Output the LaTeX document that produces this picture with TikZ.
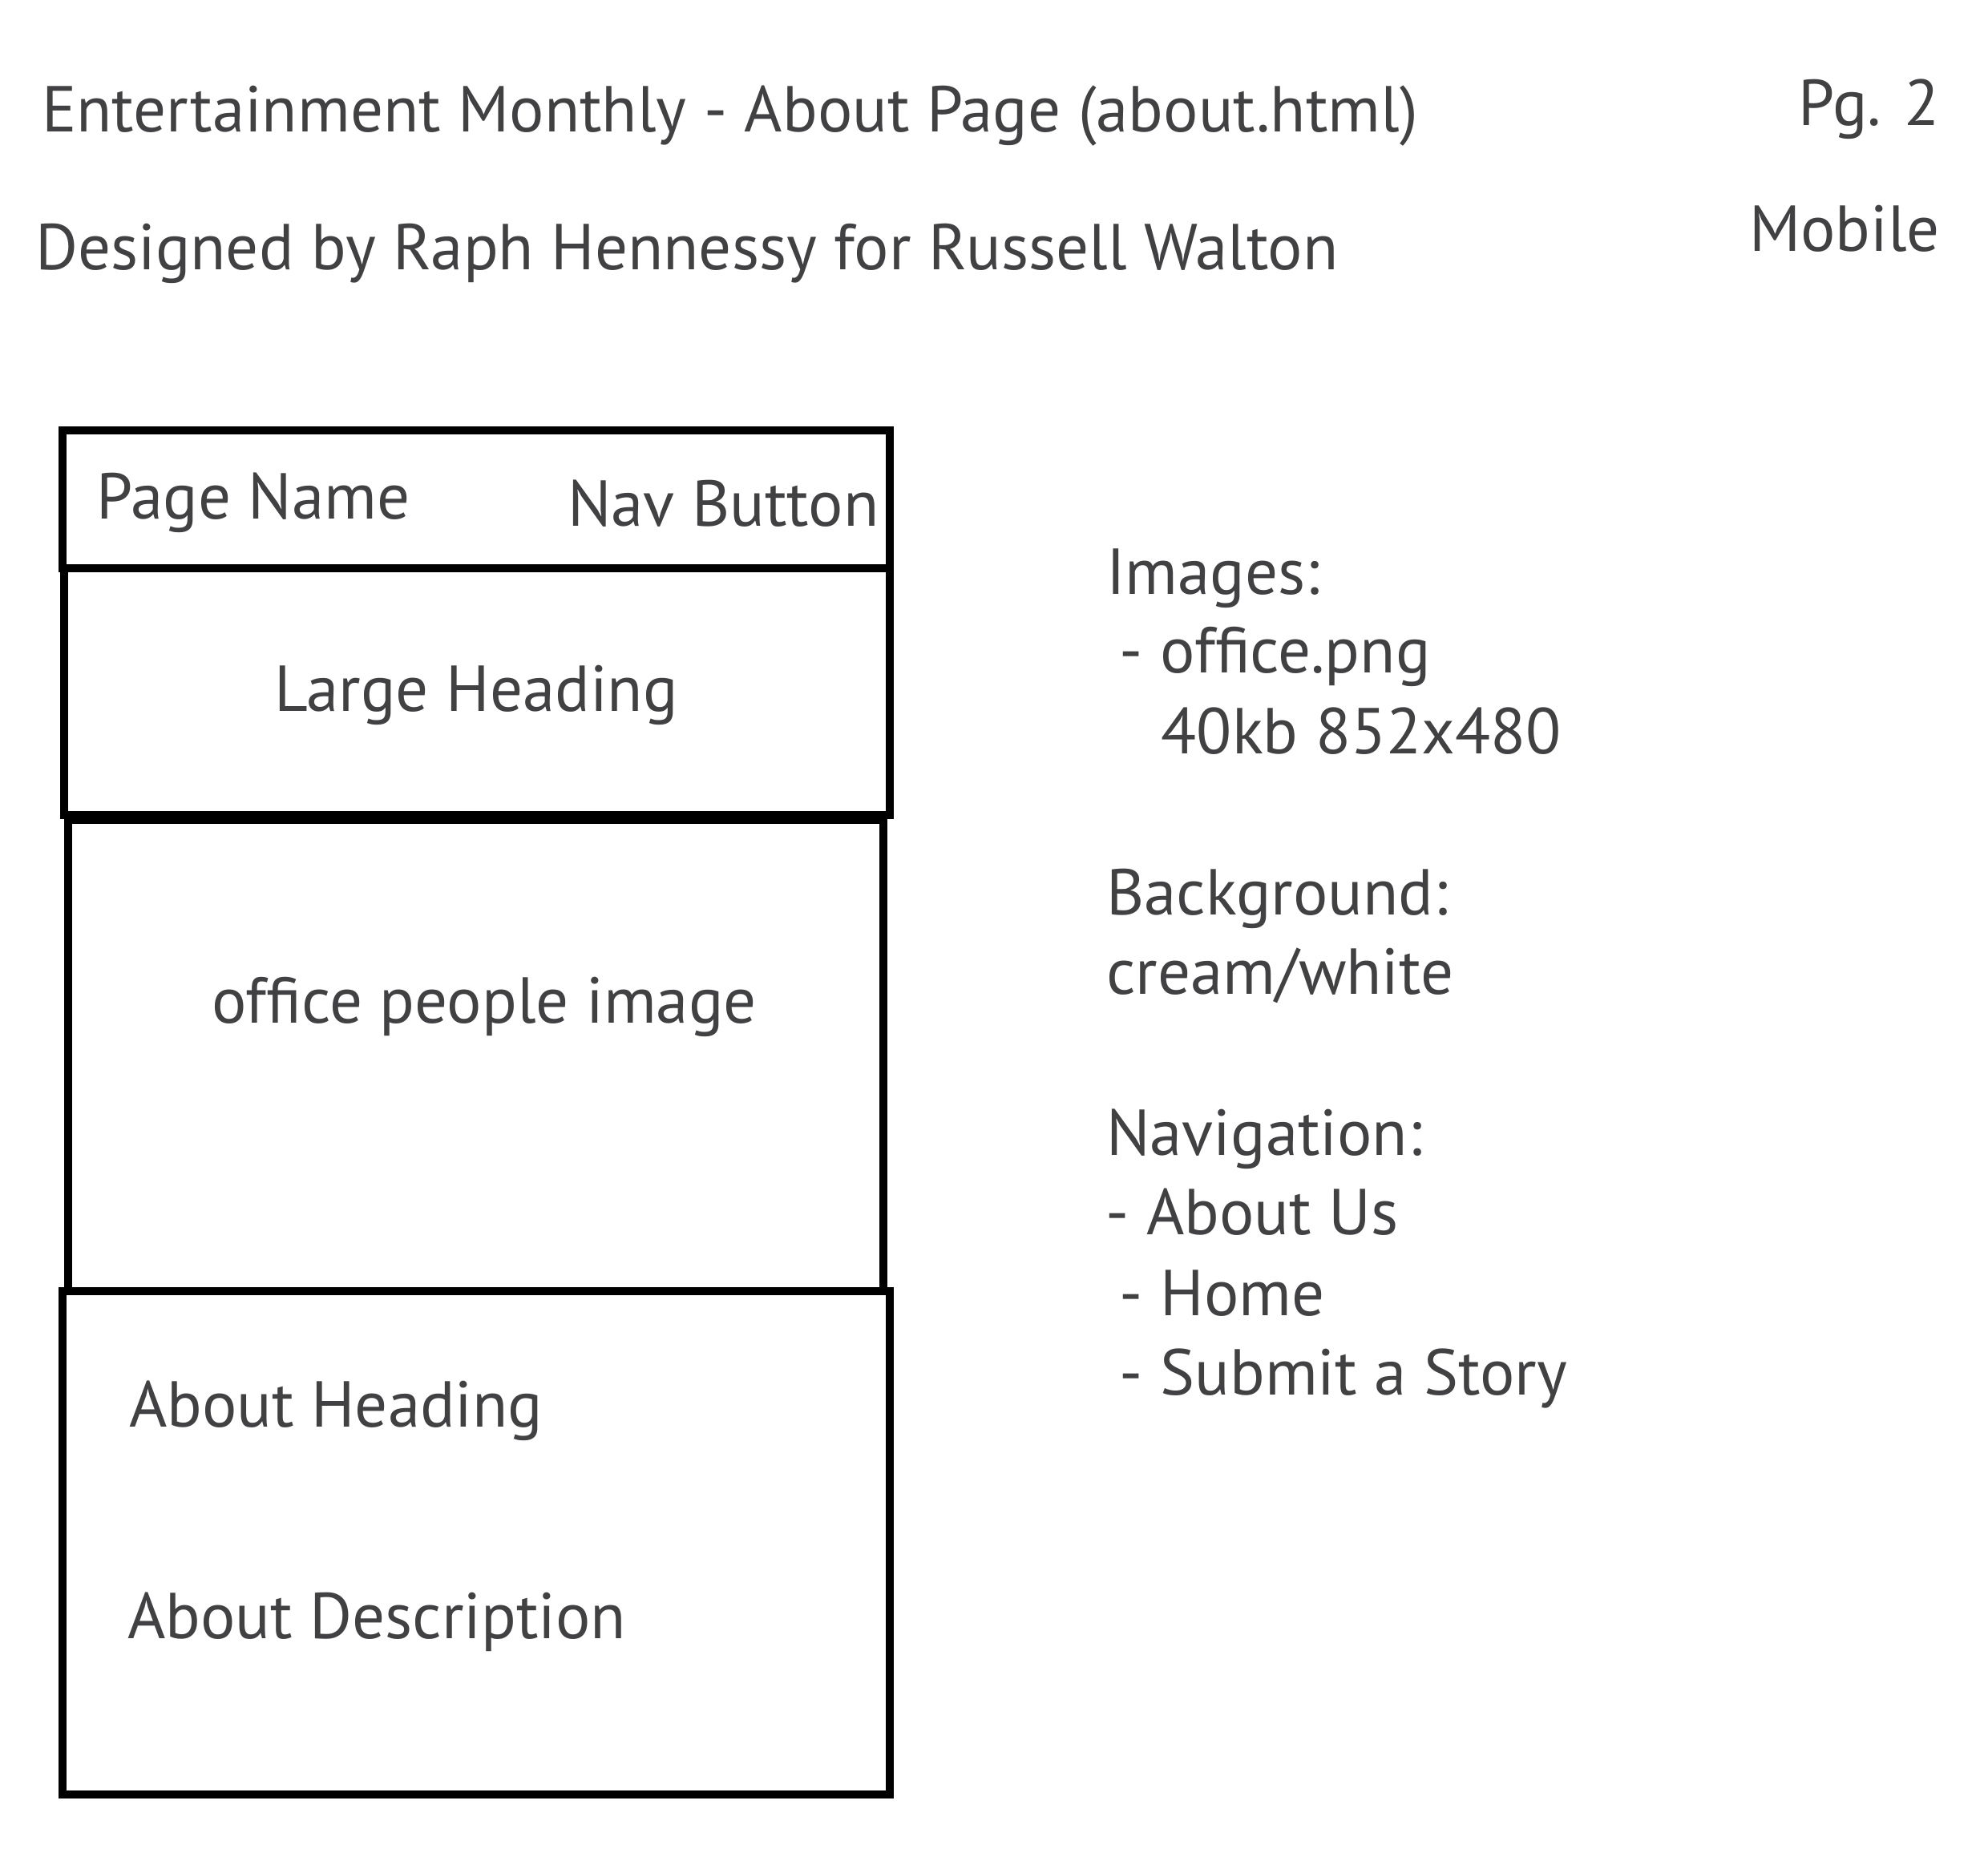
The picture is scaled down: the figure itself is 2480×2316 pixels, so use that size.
\documentclass[tikz,border=0pt]{standalone}
\usepackage{fontspec}
\setmainfont{PT Sans}
\definecolor{ink}{HTML}{414042}
\begin{document}
\begin{tikzpicture}[x=1pt,y=-1pt,
  frame/.style={draw=black,line width=10pt,line join=miter},
  label/.style={inner sep=0pt,text=ink,font=\fontsize{81}{97}\selectfont},
  lw/.style={label,anchor=base west},
  le/.style={label,anchor=base east},
  lc/.style={label,anchor=base}]
\useasboundingbox[fill=white] (0,0) rectangle (2480,2316);

% heading lines
\node[lw] (title)  at (52,164.3) {Entertainment Monthly - About Page (about.html)};
\node[lw] (credit) at (44,336)   {Designed by Raph Hennessy for Russell Walton};
\node[le] (page)   at (2420,156.7) {Pg. 2};
\node[le] (device) at (2420,313) {Mobile};

% mobile wireframe: stacked sections
\draw[frame] (77.5,537) rectangle (1110,709);
\draw[frame] (80,709) rectangle (1110,1017);
\draw[frame] (85,1023) rectangle (1102,1611);
\draw[frame] (77.5,1611) rectangle (1110,2238.5);

\node[lw] (pagename) at (120.7,647) {Page Name};
\node[lw] (navbtn)   at (708,656)   {Nav Button};
\node[lc] (largeh)   at (594,887)   {Large Heading};
\node[lc] (officeimg) at (604,1276) {office people image};
\node[lw] (abouth)   at (161,1780)  {About Heading};
\node[lw] (aboutd)   at (159,2044)  {About Description};

% notes column
\node[lw] (images)  at (1380,741)    {Images:};
\node[lw] (imgfile) at (1396.7,839.5) {- office.png};
\node[lw] (imgsize) at (1448.5,940.7) {40kb 852x480};
\node[lw] (bg)      at (1380,1141)   {Background:};
\node[lw] (bgval)   at (1380,1240)   {cream/white};
\node[lw] (nav)     at (1380,1441)   {Navigation:};
\node[lw] (nav1)    at (1379,1540.6) {- About Us};
\node[lw] (nav2)    at (1396.7,1641) {- Home};
\node[lw] (nav3)    at (1396.7,1740) {- Submit a Story};
\end{tikzpicture}
\end{document}
